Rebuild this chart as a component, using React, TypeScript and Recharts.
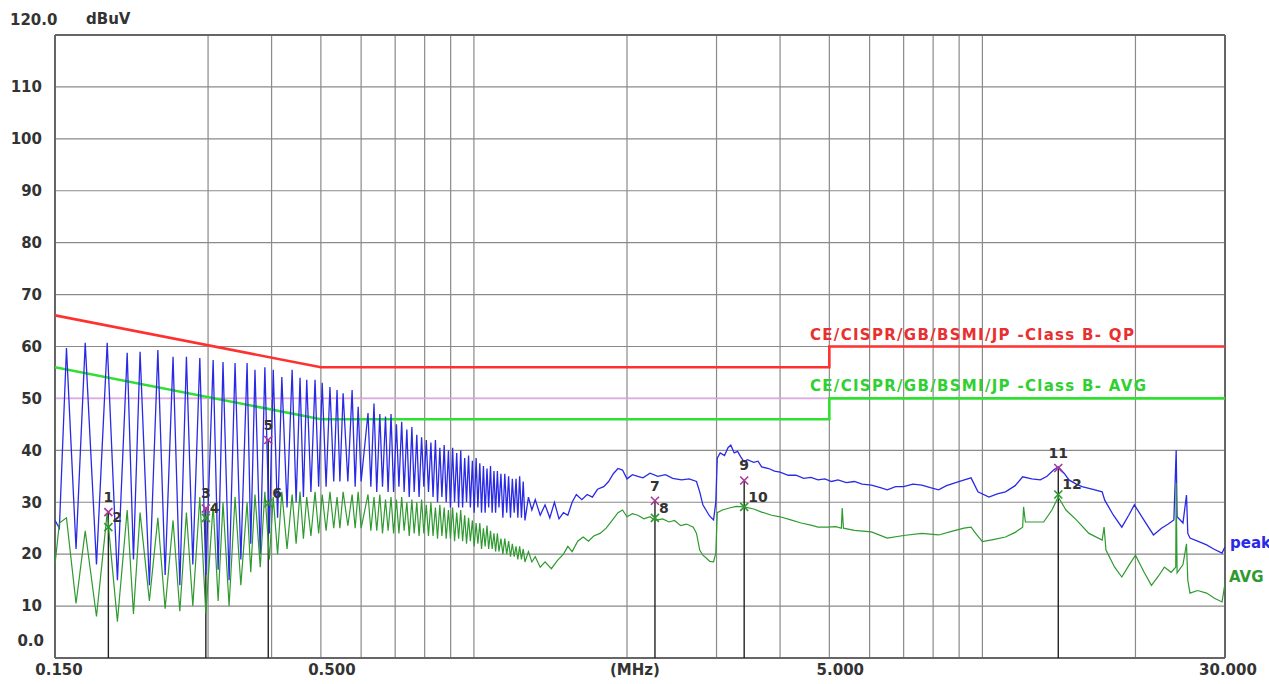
import React from "react";
import {
  ComposedChart,
  Line,
  Scatter,
  XAxis,
  YAxis,
  CartesianGrid,
  ReferenceLine,
} from "recharts";

// axis ticks / grid
const yTicks = [0, 10, 20, 30, 40, 50, 60, 70, 80, 90, 100, 110, 120];
const gridFreqs = [0.15, 0.3, 0.4, 0.5, 0.6, 0.7, 0.8, 0.9, 1, 2, 3, 4, 5, 6, 7, 8, 9, 10, 20, 30];
const freqLabels: Record<string, string> = { "0.15": "0.150", "0.5": "0.500", "5": "5.000", "30": "30.000" };

// limit lines (CISPR class B)
const limitFreqs = [0.15, 0.5, 5, 5, 30];
const qpLimit = [66, 56, 56, 60, 60];
const avgLimit = [56, 46, 46, 50, 50];

// measured markers
const markerNo = [1, 2, 3, 4, 5, 6, 7, 8, 9, 10, 11, 12];
const markerFreq = [0.191, 0.191, 0.297, 0.297, 0.394, 0.394, 2.27, 2.27, 3.4, 3.4, 14.1, 14.1];
const markerLevel = [28.1, 25.2, 28.8, 27, 42, 29.8, 30.3, 27, 34.2, 29.1, 36.6, 31.5];

// peak trace [MHz, dBuV]
const peakComb: [number, number][] = [
  [0.15, 26.5], [0.153, 25], [0.158, 59.7], [0.165, 21], [0.172, 60.7], [0.181, 18], [0.19, 60.7], [0.199, 15],
  [0.208, 58.8], [0.214, 19], [0.2205, 59], [0.23, 14], [0.239, 59.3], [0.247, 16], [0.256, 58], [0.264, 14],
  [0.272, 58], [0.28, 18], [0.289, 57.8], [0.297, 16], [0.307, 57.4], [0.314, 17], [0.321, 57], [0.33, 15],
  [0.339, 56.8], [0.348, 19], [0.358, 56.8], [0.364, 22], [0.371, 55.5], [0.38, 20], [0.388, 56], [0.396, 24],
  [0.403, 55.5], [0.411, 27], [0.419, 54.1], [0.429, 29], [0.439, 55.5], [0.447, 30], [0.455, 54], [0.462, 31],
  [0.469, 53.6], [0.478, 32], [0.487, 53.6], [0.495, 33], [0.503, 53], [0.512, 33], [0.521, 52.2], [0.53, 34],
  [0.538, 51.6], [0.545, 34], [0.553, 51], [0.565, 34], [0.576, 51.6], [0.584, 33], [0.592, 48.4], [0.6, 34],
  [0.619, 47.2], [0.627, 33], [0.636, 49], [0.644, 32], [0.653, 47], [0.661, 33], [0.67, 46.5], [0.678, 32],
  [0.687, 47], [0.695, 32], [0.704, 45], [0.712, 33], [0.721, 45.5], [0.729, 32], [0.738, 44], [0.746, 31],
  [0.755, 44.5], [0.763, 32], [0.772, 43], [0.78, 31], [0.789, 42.5], [0.797, 33], [0.806, 42], [0.814, 32],
  [0.823, 41.5], [0.831, 31], [0.84, 42], [0.848, 30], [0.857, 40.5], [0.865, 31], [0.874, 41], [0.882, 30],
  [0.891, 40], [0.899, 29], [0.908, 40.5], [0.916, 30], [0.925, 39.5], [0.933, 29], [0.942, 40], [0.95, 29],
  [0.959, 38.5], [0.967, 30], [0.976, 39], [0.984, 29], [0.993, 38], [1.001, 28], [1.01, 38.5], [1.018, 29],
  [1.027, 37.5], [1.035, 28], [1.044, 37], [1.052, 28], [1.061, 36.5], [1.069, 29], [1.078, 37], [1.086, 28],
  [1.095, 36], [1.103, 28], [1.112, 36], [1.12, 29], [1.13, 35.5], [1.14, 27], [1.15, 35.5], [1.16, 28],
  [1.17, 35], [1.18, 27], [1.19, 34.5], [1.2, 28], [1.21, 34.5], [1.22, 27], [1.23, 35], [1.24, 27],
  [1.25, 34], [1.26, 26.5],
];
const peakTail: [number, number][] = [
  [1.28, 31], [1.3, 28.5], [1.32, 30.5], [1.35, 27.5], [1.38, 29.5], [1.41, 27], [1.44, 30], [1.47, 26.8],
  [1.5, 28], [1.53, 27.5], [1.56, 30], [1.59, 31.5], [1.63, 30.5], [1.67, 31.5], [1.71, 31], [1.75, 32.5],
  [1.8, 33], [1.84, 34], [1.88, 35.5], [1.92, 36.5], [1.96, 36.2], [2.0, 34.5], [2.05, 35.3], [2.1, 35],
  [2.15, 34.7], [2.22, 35.6], [2.3, 35], [2.38, 35.3], [2.46, 34.6], [2.56, 34.3], [2.65, 34.5], [2.74, 34],
  [2.78, 32], [2.82, 29.5], [2.86, 28.5], [2.9, 27.5], [2.93, 27], [2.96, 26.6], [2.99, 30], [3.01, 38.5],
  [3.05, 39.5], [3.11, 39], [3.16, 40.5], [3.2, 41], [3.25, 39.5], [3.3, 39.8], [3.35, 38.7], [3.4, 37.8],
  [3.45, 38.2], [3.55, 37.7], [3.62, 37.9], [3.68, 36.8], [3.8, 36.5], [3.9, 36], [4.0, 35.8], [4.15, 35.2],
  [4.3, 35.2], [4.45, 34.6], [4.6, 34.8], [4.75, 34.3], [4.9, 34.5], [5.05, 34], [5.2, 34.3], [5.4, 33.8],
  [5.6, 34], [5.8, 33.5], [6.05, 33.3], [6.3, 32.8], [6.5, 32.4], [6.75, 33], [7.0, 33], [7.3, 33.5],
  [7.6, 33.3], [7.9, 32.8], [8.2, 32.4], [8.5, 33.2], [8.8, 33.7], [9.15, 34.2], [9.5, 34.7], [9.8, 32],
  [10.3, 31], [10.7, 31.6], [11.1, 32], [11.6, 33.2], [12.0, 34.9], [12.5, 34.5], [13.0, 34.3], [13.4, 35],
  [13.8, 36.2], [14.1, 36.8], [14.5, 35.5], [14.8, 34.3], [15.3, 33.5], [15.7, 33], [16.5, 32.5], [17.2, 32],
  [17.4, 30.4], [18.1, 27.5], [18.8, 25.2], [19.4, 27.5], [19.9, 29.5], [20.8, 26.5], [21.7, 23.7], [22.5, 25],
  [23.2, 25.8], [23.8, 26.6], [24.05, 40], [24.15, 27.2], [24.8, 26], [25.2, 31.4], [25.35, 24], [25.6, 23.1],
  [26.5, 22.5], [27.6, 21.8], [28.5, 21], [29.6, 20.2], [30, 21.4],
];

// average trace [MHz, dBuV]
const avgComb: [number, number][] = [
  [0.15, 18], [0.153, 26], [0.158, 27], [0.165, 10.5], [0.172, 24.5], [0.181, 8], [0.19, 28], [0.199, 7],
  [0.208, 28.5], [0.214, 8.5], [0.2205, 28], [0.23, 11], [0.239, 27], [0.247, 9.5], [0.256, 26.5], [0.264, 9],
  [0.272, 28], [0.28, 10], [0.289, 31], [0.297, 8.5], [0.307, 29.5], [0.314, 11], [0.321, 30], [0.33, 10],
  [0.339, 31], [0.348, 14], [0.358, 30], [0.364, 16.5], [0.371, 31.5], [0.38, 17.5], [0.388, 32], [0.396, 19],
  [0.403, 31], [0.411, 20], [0.419, 32], [0.429, 21], [0.439, 31.5], [0.447, 22], [0.455, 32], [0.462, 23],
  [0.469, 31], [0.478, 23.5], [0.487, 32], [0.495, 24], [0.503, 31.5], [0.512, 24.5], [0.521, 32], [0.53, 25],
  [0.538, 31], [0.545, 25], [0.553, 32], [0.565, 25.5], [0.576, 31.5], [0.584, 25], [0.592, 32], [0.6, 25],
  [0.619, 31.5], [0.627, 24.5], [0.636, 31], [0.644, 24.5], [0.653, 31.5], [0.661, 24], [0.67, 30.5], [0.678, 24.5],
  [0.687, 31], [0.695, 24], [0.704, 30.5], [0.712, 24], [0.721, 31], [0.729, 24.5], [0.738, 30], [0.746, 23.5],
  [0.755, 30.5], [0.763, 24], [0.772, 30], [0.78, 23.5], [0.789, 30.5], [0.797, 24], [0.806, 29.5], [0.814, 23.5],
  [0.823, 30], [0.831, 23.5], [0.84, 29], [0.848, 23], [0.857, 29.5], [0.865, 23.5], [0.874, 29], [0.882, 23],
  [0.891, 28.5], [0.899, 23], [0.908, 29], [0.916, 22.5], [0.925, 28], [0.933, 23], [0.942, 28.5], [0.95, 22.5],
  [0.959, 27.5], [0.967, 22], [0.976, 27], [0.984, 22.5], [0.993, 26.5], [1.001, 21.5], [1.01, 26], [1.018, 22],
  [1.027, 26], [1.035, 21], [1.044, 25], [1.052, 21.5], [1.061, 25.5], [1.069, 21], [1.078, 24.5], [1.086, 21],
  [1.095, 24], [1.103, 20.5], [1.112, 24], [1.12, 20.5], [1.13, 23], [1.14, 20], [1.15, 23], [1.16, 20],
  [1.17, 22.5], [1.18, 19.5], [1.19, 22], [1.2, 19.5], [1.21, 21.5], [1.22, 19], [1.23, 21.5], [1.24, 19],
  [1.25, 21], [1.26, 18.5],
];
const avgTail: [number, number][] = [
  [1.28, 20.5], [1.3, 18.5], [1.32, 19.5], [1.35, 17.5], [1.38, 18.5], [1.42, 17.2], [1.46, 18.8], [1.5, 20],
  [1.53, 21.5], [1.56, 20.5], [1.6, 22.5], [1.64, 23.3], [1.68, 22.5], [1.72, 23.5], [1.77, 24], [1.82, 25],
  [1.87, 26.5], [1.92, 28], [1.96, 28.5], [2.0, 27.2], [2.05, 27.8], [2.1, 27.5], [2.16, 26.8], [2.22, 27.2],
  [2.27, 26.5], [2.35, 26.8], [2.42, 26.2], [2.48, 26.5], [2.55, 25.5], [2.62, 25.8], [2.7, 25.2], [2.74, 24],
  [2.78, 20.8], [2.82, 19.8], [2.86, 19.3], [2.91, 18.6], [2.96, 18.5], [2.99, 20.2], [3.01, 28], [3.08, 28.5],
  [3.18, 28.9], [3.28, 29.2], [3.4, 29.1], [3.55, 28.7], [3.68, 28.1], [3.85, 27.5], [4.0, 27.2], [4.2, 26.6],
  [4.4, 26], [4.6, 25.6], [4.75, 25.2], [4.95, 25.2], [5.15, 25.3], [5.28, 25], [5.3, 28.9], [5.33, 25],
  [5.6, 24.6], [6.05, 24.3], [6.5, 23.1], [7.0, 23.6], [7.6, 24], [8.2, 23.7], [8.7, 24.4], [9.2, 25],
  [9.5, 25.2], [9.7, 24], [10.0, 22.4], [10.5, 22.8], [11.1, 23.3], [11.6, 24.2], [12.0, 25.2], [12.05, 29.1],
  [12.15, 26.2], [13.2, 26.2], [13.7, 28.5], [14.1, 31], [14.6, 28.5], [15.3, 26.6], [16.2, 24], [17.2, 22.7],
  [17.35, 25.2], [17.5, 20.8], [18.2, 17.5], [18.8, 15.6], [19.4, 17.8], [20.0, 19.8], [20.8, 16.5], [21.5, 14],
  [22.2, 15.8], [22.8, 17.5], [23.5, 16.5], [24.0, 17.5], [24.05, 33.7], [24.15, 16.4], [24.8, 18], [25.2, 22],
  [25.35, 15], [25.6, 12.5], [26.5, 13], [27.6, 12.5], [28.6, 11.5], [29.6, 10.8], [30, 14.4],
];

const FONT = "'DejaVu Sans', 'Liberation Sans', Arial, sans-serif";
const TEXT = "#333";

const toPoints = (pairs: [number, number][]) => pairs.map(([f, v]) => ({ f, v }));
const peakData = toPoints([...peakComb, ...peakTail]);
const avgData = toPoints([...avgComb, ...avgTail]);
const qpLimitData = limitFreqs.map((f, i) => ({ f, v: qpLimit[i] }));
const avgLimitData = limitFreqs.map((f, i) => ({ f, v: avgLimit[i] }));
const markerData = markerNo.map((n, i) => ({ f: markerFreq[i], v: markerLevel[i], n }));

const xLabelShift: Record<string, number> = { "0.15": 4, "0.5": 11, "5": 11, "30": 3 };

const XTick = (props: any) => {
  const { x, y, payload } = props;
  const key = String(payload.value);
  const label = freqLabels[key];
  if (!label) return <g />;
  return (
    <text x={x + xLabelShift[key]} y={y + 12} dy="0.35em" textAnchor="middle"
      fontFamily={FONT} fontWeight="bold" fontSize={15} fill={TEXT}>
      {label}
    </text>
  );
};

const YTick = (props: any) => {
  const { x, y, payload } = props;
  const v = payload.value;
  const common = { fontFamily: FONT, fontWeight: "bold" as const, fontSize: 15, fill: TEXT };
  if (v === 120) {
    return (
      <g>
        <text x={x - 45} y={y - 15} dy="0.35em" {...common}>120.0</text>
        <text x={x + 31} y={y - 16} dy="0.35em" {...common}>dBuV</text>
      </g>
    );
  }
  if (v === 0) {
    return <text x={x - 11} y={y - 17} dy="0.35em" textAnchor="end" {...common}>0.0</text>;
  }
  return <text x={x - 13} y={y} dy="0.35em" textAnchor="end" {...common}>{v}</text>;
};

const MarkerShape = ({ cx, cy, payload }: any) => {
  const qp = payload.n % 2 === 1;
  const c = qp ? "#a8389c" : "#2c9a2c";
  const s = 4;
  return (
    <g>
      <line x1={cx - s} y1={cy - s} x2={cx + s} y2={cy + s} stroke={c} strokeWidth={1.6} />
      <line x1={cx - s} y1={cy + s} x2={cx + s} y2={cy - s} stroke={c} strokeWidth={1.6} />
      <text x={qp ? cx : cx + 4} y={qp ? cy - 15 : cy - 10} dy="0.35em" textAnchor={qp ? "middle" : "start"}
        fontFamily={FONT} fontWeight="bold" fontSize={14} fill={TEXT}>
        {payload.n}
      </text>
    </g>
  );
};

const overlay = (left: number, top: number, color: string, text: string, extra: React.CSSProperties = {}) => (
  <div style={{ position: "absolute", left, top, color, fontFamily: FONT, fontWeight: "bold", fontSize: 15,
    lineHeight: "18px", whiteSpace: "nowrap", ...extra }}>
    {text}
  </div>
);

export default function App() {
  return (
    <div style={{ position: "absolute", left: 0, top: 0, width: 1269, height: 684, background: "#fff", overflow: "hidden" }}>
      <ComposedChart width={1269} height={684} margin={{ top: 35, right: 44, bottom: 0, left: 0 }}>
        <CartesianGrid stroke="#8a8a8a" strokeWidth={1.2} />
        <XAxis dataKey="f" type="number" scale="log" domain={[0.15, 30]} allowDataOverflow ticks={gridFreqs}
          interval={0} height={26} tickSize={0} tickMargin={0} axisLine={false} tickLine={false} tick={XTick} />
        <YAxis type="number" domain={[0, 120]} ticks={yTicks} interval={0} width={55} tickSize={0}
          tickMargin={0} axisLine={false} tickLine={false} tick={YTick} />
        <ReferenceLine segment={[{ x: 0.15, y: 50 }, { x: 5, y: 50 }]} stroke="#e2a6e2" strokeWidth={1.5} />
        <ReferenceLine x={0.15} stroke="#666" strokeWidth={2} />
        <ReferenceLine x={30} stroke="#666" strokeWidth={2} />
        <ReferenceLine y={0} stroke="#666" strokeWidth={2} />
        <ReferenceLine y={120} stroke="#666" strokeWidth={2} />
        {markerData.filter((m) => m.n % 2 === 1).map((m) => (
          <ReferenceLine key={m.n} segment={[{ x: m.f, y: 0 }, { x: m.f, y: m.v }]} stroke="#222" strokeWidth={1.4} />
        ))}
        <Line data={qpLimitData} dataKey="v" stroke="#ff3030" strokeWidth={2.6} dot={false} type="linear" isAnimationActive={false} />
        <Line data={avgLimitData} dataKey="v" stroke="#30e030" strokeWidth={2.6} dot={false} type="linear" isAnimationActive={false} />
        <Line data={peakData} dataKey="v" stroke="#2a2ae6" strokeWidth={1.3} dot={false} type="linear" isAnimationActive={false} />
        <Line data={avgData} dataKey="v" stroke="#2f9a2f" strokeWidth={1.2} dot={false} type="linear" isAnimationActive={false} />
        <Scatter data={markerData} dataKey="v" shape={MarkerShape} isAnimationActive={false} />
      </ComposedChart>
      {overlay(810, 326, "#e83030", "CE/CISPR/GB/BSMI/JP -Class B- QP", { letterSpacing: "1.3px" })}
      {overlay(810, 377, "#30d030", "CE/CISPR/GB/BSMI/JP -Class B- AVG", { letterSpacing: "1.3px" })}
      {overlay(610, 661, TEXT, "(MHz)")}
      {overlay(1230, 534, "#2a2ae6", "peak")}
      {overlay(1229, 568, "#2f9a2f", "AVG")}
    </div>
  );
}
